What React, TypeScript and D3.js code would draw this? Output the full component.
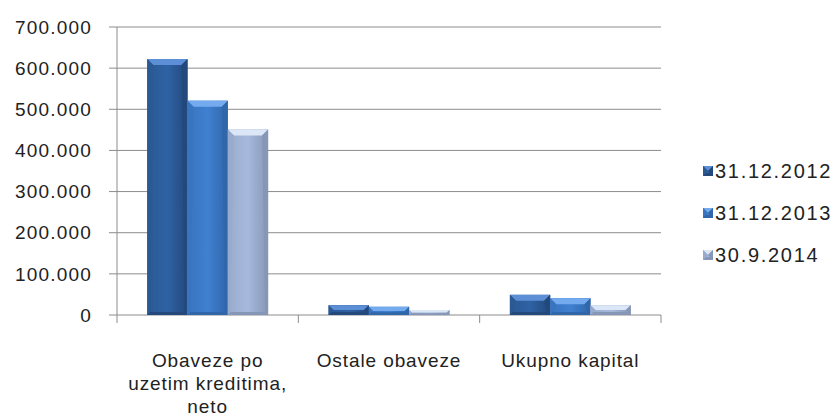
import React from "react";
import * as d3 from "d3";

// categories on the x axis, with the wrapped label lines
const categories = ["Obaveze po uzetim kreditima, neto", "Ostale obaveze", "Ukupno kapital"];
const categoryLines = [["Obaveze po", "uzetim kreditima,", "neto"], ["Ostale obaveze"], ["Ukupno kapital"]];

const seriesNames = ["31.12.2012", "31.12.2013", "30.9.2014"];
const values2012 = [622000, 24000, 49000];
const values2013 = [521000, 20000, 41000];
const values2014 = [451000, 12000, 24000];
const seriesValues = [values2012, values2013, values2014];

const yTicks = [0, 100000, 200000, 300000, 400000, 500000, 600000, 700000];

const palettes = [
  { base: "#2f62a4", light: "#5d8fd6", dark: "#23487c", edge: "#2a5993" },
  { base: "#3f80d0", light: "#74abef", dark: "#3066aa", edge: "#3974bf" },
  { base: "#a7badd", light: "#dbe6f6", dark: "#8696b6", edge: "#99abcd" },
];

const W = 838, H = 418;
const margin = { left: 117, right: 177, top: 27, bottom: 103 };
const font = "'Liberation Sans', Arial, sans-serif";

const fmt = (v: number) => (v === 0 ? "0" : d3.format(",")(v).replace(/,/g, "."));

function Bar({ x, y, w, h, p, id }: any) {
  const b = Math.min(6, h / 2, w / 2);
  const s = Math.min(3, h / 3);
  const x2 = x + w, y2 = y + h;
  return (
    <g>
      <rect x={x} y={y} width={w} height={h} fill={`url(#g${id})`} />
      <polygon points={`${x},${y} ${x2},${y} ${x2 - b},${y + b} ${x + b},${y + b}`} fill={p.light} />
      <polygon points={`${x},${y} ${x + b},${y + b} ${x + s},${y2 - s} ${x},${y2}`} fill={p.edge} />
      <polygon points={`${x2},${y} ${x2 - b},${y + b} ${x2 - s},${y2 - s} ${x2},${y2}`} fill={p.dark} />
      <polygon points={`${x},${y2} ${x + s},${y2 - s} ${x2 - s},${y2 - s} ${x2},${y2}`} fill={p.dark} />
    </g>
  );
}

export default function App() {
  const x0 = d3.scaleBand().domain(categories).range([margin.left, W - margin.right]).paddingInner(0).paddingOuter(0);
  const x1 = d3.scaleBand().domain(seriesNames).range([0, x0.bandwidth()]).paddingOuter(0.75).paddingInner(0);
  const y = d3.scaleLinear().domain([0, 700000]).range([H - margin.bottom, margin.top]);
  const baseY = y(0);
  const boundaries = [...categories.map((c) => x0(c)!), x0(categories[2])! + x0.bandwidth()];

  return (
    <svg width={W} height={H} style={{ position: "absolute", left: 0, top: 0, background: "#fff" }}>
      <defs>
        {palettes.map((p, i) => (
          <linearGradient key={i} id={`g${i}`} x1="0" x2="1" y1="0" y2="0">
            <stop offset="0" stopColor={p.edge} />
            <stop offset="0.5" stopColor={p.base} />
            <stop offset="1" stopColor={p.dark} />
          </linearGradient>
        ))}
      </defs>
      {yTicks.map((t) => (
        <g key={t}>
          <line x1={margin.left - 8} x2={W - margin.right} y1={y(t)} y2={y(t)} stroke="#8c8c8c" strokeWidth={1} />
          <text x={92} y={y(t)} dy="0.35em" textAnchor="end" fontFamily={font} fontSize={19} letterSpacing={1.2} fill="#222">
            {fmt(t)}
          </text>
        </g>
      ))}
      <line x1={margin.left} x2={margin.left} y1={margin.top} y2={baseY} stroke="#8c8c8c" />
      {boundaries.map((bx, i) => (
        <line key={i} x1={bx} x2={bx} y1={baseY} y2={baseY + 8} stroke="#8c8c8c" />
      ))}
      {categories.map((c, ci) =>
        seriesNames.map((s, si) => {
          const v = seriesValues[si][ci];
          const top = y(v);
          return (
            <Bar key={c + s} id={si} p={palettes[si]} x={x0(c)! + x1(s)!} y={top} w={x1.bandwidth()} h={baseY - top} />
          );
        })
      )}
      {categories.map((c, ci) =>
        categoryLines[ci].map((ln, li) => (
          <text key={c + li} x={x0(c)! + x0.bandwidth() / 2} y={360 + li * 23} dy="0.35em" textAnchor="middle"
            fontFamily={font} fontSize={19} letterSpacing={0.9} fill="#222">
            {ln}
          </text>
        ))
      )}
      {seriesNames.map((s, i) => (
        <g key={s} transform={`translate(703, ${171 + i * 42})`}>
          <Bar x={0} y={-5} w={10} h={10} p={palettes[i]} id={i} />
          <text x={12} y={0} dy="0.35em" fontFamily={font} fontSize={20} letterSpacing={1.7} fill="#222">
            {s}
          </text>
        </g>
      ))}
    </svg>
  );
}
